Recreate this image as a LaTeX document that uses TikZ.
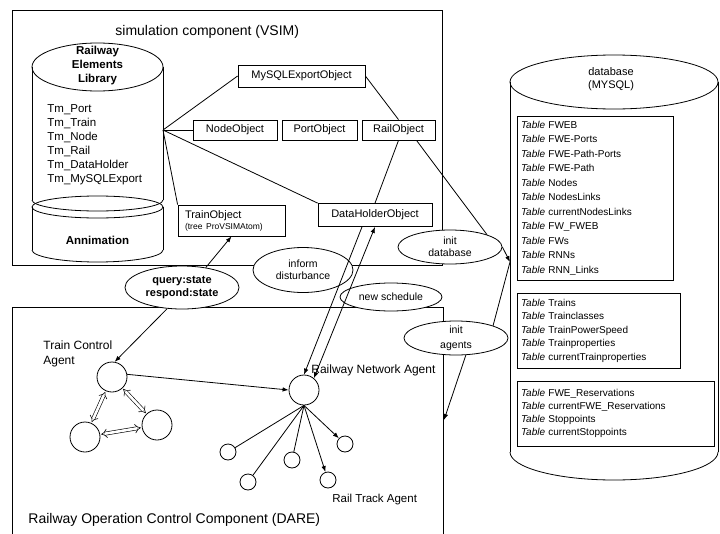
\documentclass[tikz,border=0pt]{standalone}
\usepackage{fontspec}
\setmainfont{Liberation Sans}
\usetikzlibrary{arrows.meta,shapes.geometric}
\newcommand\dbtable[1]{\textit{Table} #1}
\begin{document}
\begin{tikzpicture}[x=1pt,y=-1pt,line width=0.8pt,
  lbl/.style={inner sep=0pt},
  objbox/.style={draw,rectangle,inner sep=0pt,font=\fontsize{11}{13}\selectfont},
  msg/.style={draw,ellipse,fill=white,inner sep=-4pt,align=center,font=\fontsize{10.5}{12}\selectfont},
  agent/.style={draw,circle,inner sep=0pt,minimum size=30pt},
  subagent/.style={draw,circle,inner sep=0pt,minimum size=16pt},
  tablebox/.style={draw,rectangle,align=left,inner xsep=4pt,inner ysep=0pt,font=\fontsize{10}{14.5}\selectfont},
  arr/.style={-{Latex[length=6pt,width=4.5pt]}},
  biarr/.style={{Latex[length=6pt,width=4.5pt]}-{Latex[length=6pt,width=4.5pt]}},
  dblarr/.style={double,double distance=2.6pt,line width=0.6pt,{Implies}-{Implies}}]
\useasboundingbox (0,0) rectangle (720,533);

% simulation component frame
\draw (12,10) rectangle (442,265);
% railway operation control frame, running off the page bottom
\draw (12,540) -- (12,307) -- (443,307) -- (443,540);

% railway elements library cylinder with the animation part below
\draw (32,67) -- (32,200) (163,67) -- (163,200);
\draw (97.5,67) ellipse [x radius=65.5pt,y radius=24pt];
\draw (32,200) arc [start angle=180,end angle=360,x radius=65.5pt,y radius=11pt];
\draw (97.5,207) ellipse [x radius=65.5pt,y radius=11pt];
\draw (32,207) -- (32,250) (163,207) -- (163,250);
\draw (32,250) arc [start angle=180,end angle=360,x radius=65.5pt,y radius=12pt];

% database cylinder
\draw (510,82) -- (510,452) (718,82) -- (718,452);
\draw (614,82) ellipse [x radius=104pt,y radius=27pt];
\draw (510,452) arc [start angle=180,end angle=360,x radius=104pt,y radius=28pt];

% texts of the simulation component
\node[lbl,anchor=west,font=\fontsize{14}{16}\selectfont] (vsim) at (115,32) {simulation component (VSIM)};
\node[lbl,align=center,font=\fontsize{11.5}{14}\selectfont\bfseries] (libname) at (97.5,66) {Railway\\Elements\\Library};
\node[lbl,anchor=west,align=left,font=\fontsize{11.5}{14}\selectfont] (tmlist) at (47,145)
  {Tm\_Port\\Tm\_Train\\Tm\_Node\\Tm\_Rail\\Tm\_DataHolder\\Tm\_MySQLExport};
\node[lbl,font=\fontsize{11.5}{14}\selectfont\bfseries] (anim) at (97.5,240) {Annimation};

% simulation objects
\node[objbox,minimum width=127pt,minimum height=22pt] (mysql) at (301.5,76) {MySQLExportObject};
\node[objbox,minimum width=84pt,minimum height=20pt] (nodeobj) at (235,130) {NodeObject};
\node[objbox,minimum width=75pt,minimum height=20pt] (portobj) at (319.5,130) {PortObject};
\node[objbox,minimum width=73pt,minimum height=20pt] (railobj) at (398.5,130) {RailObject};
\node[objbox,minimum width=114pt,minimum height=23pt] (dataholder) at (375,215) {DataHolderObject};
\node[objbox,text width=93pt,inner xsep=7pt,minimum height=31pt,align=left] (trainobj) at (231.5,220.5)
  {TrainObject\\[-2pt]{\fontsize{8.5}{10}\selectfont(tree ProVSIMAtom)}};

% database contents
\node[lbl,align=center,font=\fontsize{11}{13}\selectfont] (dbname) at (611,79) {database\\(MYSQL)};
\node[tablebox,text width=148pt,minimum height=164pt] (tab1) at (595,198)
  {\dbtable{FWEB}\\\dbtable{FWE-Ports}\\\dbtable{FWE-Path-Ports}\\\dbtable{FWE-Path}\\\dbtable{Nodes}\\
   \dbtable{NodesLinks}\\\dbtable{currentNodesLinks}\\\dbtable{FW\_FWEB}\\\dbtable{FWs}\\\dbtable{RNNs}\\\dbtable{RNN\_Links}};
\node[tablebox,text width=155pt,minimum height=75pt,font=\fontsize{10}{13.5}\selectfont] (tab2) at (598.5,330.5)
  {\dbtable{Trains}\\\dbtable{Trainclasses}\\\dbtable{TrainPowerSpeed}\\\dbtable{Trainproperties}\\\dbtable{currentTrainproperties}};
\node[tablebox,text width=189pt,minimum height=65pt,font=\fontsize{10}{13}\selectfont] (tab3) at (615.5,413.5)
  {\dbtable{FWE\_Reservations}\\\dbtable{currentFWE\_Reservations}\\\dbtable{Stoppoints}\\\dbtable{currentStoppoints}};

% agents
\node[agent] (tca) at (112,377) {};
\node[agent] (bl) at (85,437) {};
\node[agent] (br) at (157,425) {};
\node[agent] (rna) at (304,390) {};
\node[subagent] (rt1) at (228,452) {};
\node[subagent] (rt2) at (248,482) {};
\node[subagent] (rt3) at (292,460) {};
\node[subagent] (rt4) at (328,480) {};
\node[subagent] (rt5) at (345,444) {};
\node[lbl,anchor=west,align=left,font=\fontsize{12}{15}\selectfont] (tcalabel) at (43,354) {Train Control\\Agent};
\node[lbl,anchor=west,font=\fontsize{12}{14}\selectfont] (rnalabel) at (311,370) {Railway Network Agent};
\node[lbl,anchor=west,font=\fontsize{11.5}{14}\selectfont] (rtlabel) at (332,500) {Rail Track Agent};
\node[lbl,anchor=west,font=\fontsize{14}{16}\selectfont] (darelabel) at (28,520) {Railway Operation Control Component (DARE)};

% messages between the components
\node[msg,font=\fontsize{11}{13}\selectfont\bfseries,minimum width=114pt,minimum height=43pt] (query) at (182,287.5) {query:state\\respond:state};
\node[msg,minimum width=100pt,minimum height=45pt] (inform) at (303,270) {inform\\disturbance};
\node[msg,minimum width=104pt,minimum height=34pt] (initdb) at (450,247) {init\\database};
\node[msg,minimum width=102pt,minimum height=28pt] (newsched) at (391,297) {new schedule};
\node[msg,minimum width=104pt,minimum height=34pt,font=\fontsize{10.5}{15}\selectfont] (initag) at (456,338) {init\\agents};

\coordinate (libport) at (163,130);
\coordinate (dbport) at (510,262);
\coordinate (dareport) at (444,420);

% library to objects
\draw (libport) -- (mysql.west);
\draw (libport) -- (nodeobj.west);
\draw (libport) -- (dataholder.north west);
\draw (libport) -- (trainobj.north west);
\draw (mysql.east) -- (railobj.north);
\draw (railobj.south) -- (dataholder.north);

% database initialisation
\draw ([xshift=18pt]railobj.south) -- (initdb.north east);
\draw[arr] (initdb.east) -- (dbport);
\draw (dbport) -- (initag.north east);
\draw[arr] (initag.-60) -- (dareport);

% state queries and schedules
\draw[arr] (query.40) -- (trainobj.south);
\draw[arr] (query.235) -- (tca.80);
\draw[arr] ([xshift=-13pt]dataholder.south) -- (rna.north);
\draw[biarr] (dataholder.south) -- (rna.50);

% inside the control component
\draw[arr] (tca.10) -- (rna.west);
\draw[dblarr,shorten <=1pt,shorten >=1pt] (tca) -- (bl);
\draw[dblarr,shorten <=1pt,shorten >=1pt] (tca) -- (br);
\draw[dblarr,shorten <=1pt,shorten >=1pt] (bl) -- (br);
\draw (rna.south) -- (rt1);
\draw (rna.south) -- (rt2);
\draw (rna.south) -- (rt3);
\draw[arr] (rna.south) -- (rt4);
\draw[arr] (rna.south) -- (rt5);
\end{tikzpicture}
\end{document}
